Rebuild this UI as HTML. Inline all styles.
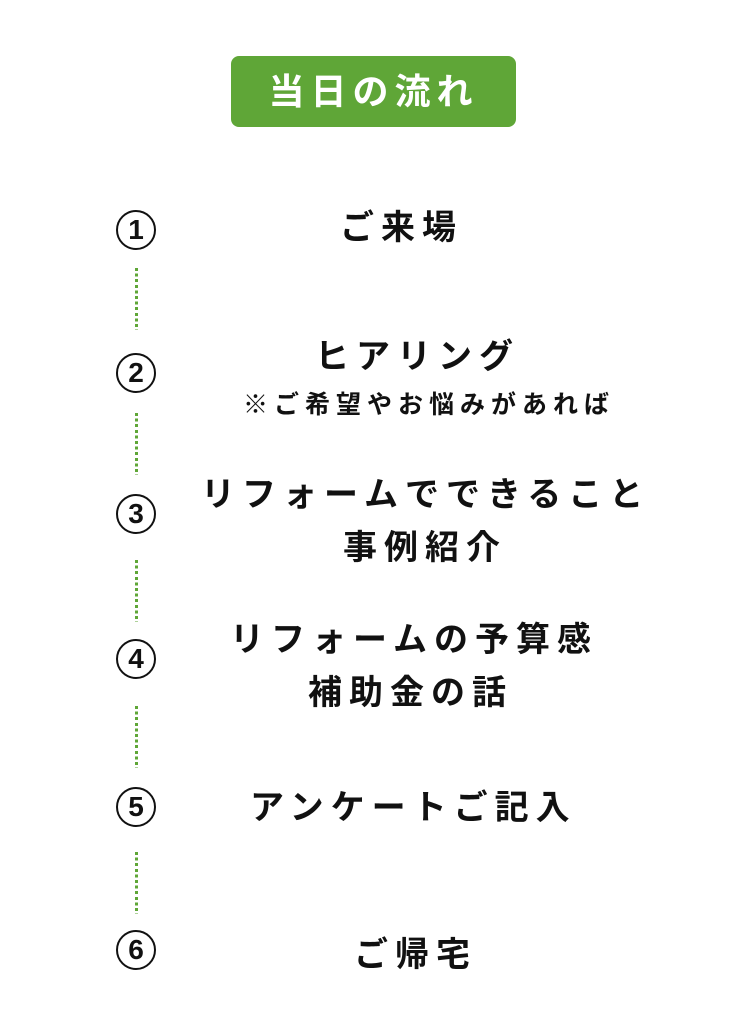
<!DOCTYPE html>
<html><head><meta charset="utf-8"><style>
body{margin:0;width:747px;height:1024px;background:#fff;position:relative;overflow:hidden;font-family:"Liberation Sans","Noto Sans CJK JP",sans-serif;color:#111}
.t{position:absolute;white-space:nowrap;font-size:34px;font-weight:700;letter-spacing:7px;line-height:34px}
.s{position:absolute;white-space:nowrap;font-size:25px;font-weight:700;letter-spacing:6px;line-height:25px}
.c{position:absolute;left:116px;width:36px;height:36px;border:2.5px solid #111;border-radius:50%;text-align:center;font-size:28px;font-weight:900;line-height:36px}
.d{position:absolute;left:135px;width:3px;height:62px;background:repeating-linear-gradient(#5fa637 0 3px,transparent 3px 5.6px)}
</style></head><body>
<div style="position:absolute;left:231px;top:56px;width:285px;height:71px;background:#5fa637;border-radius:8px;color:#fff;font-size:36px;font-weight:700;letter-spacing:6px;text-align:center;line-height:71px">当日の流れ</div>

<div class="c" style="top:210px">1</div>
<div class="d" style="top:268px"></div>
<div class="c" style="top:353px">2</div>
<div class="d" style="top:413px"></div>
<div class="c" style="top:494px">3</div>
<div class="d" style="top:560px"></div>
<div class="c" style="top:639px">4</div>
<div class="d" style="top:706px"></div>
<div class="c" style="top:787px">5</div>
<div class="d" style="top:852px"></div>
<div class="c" style="top:930px">6</div>

<div class="t" style="left:340px;top:211px">ご来場</div>
<div class="t" style="left:315px;top:340px">ヒアリング</div>
<div class="s" style="left:243px;top:393px">※ご希望やお悩みがあれば</div>
<div class="t" style="left:201px;top:478px">リフォームでできること</div>
<div class="t" style="left:343px;top:531px">事例紹介</div>
<div class="t" style="left:230px;top:623px">リフォームの予算感</div>
<div class="t" style="left:308px;top:676px">補助金の話</div>
<div class="t" style="left:250px;top:791px">アンケートご記入</div>
<div class="t" style="left:354px;top:938px">ご帰宅</div>
</body></html>
